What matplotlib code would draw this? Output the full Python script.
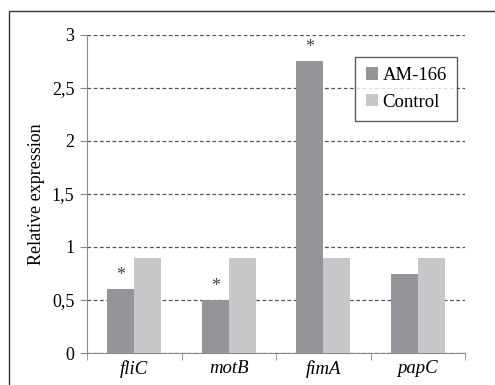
import matplotlib
matplotlib.use("Agg")
import matplotlib.pyplot as plt
import numpy as np
from matplotlib.patches import Rectangle

genes = ["fliC", "motB", "fimA", "papC"]
am166 = [0.6, 0.5, 2.75, 0.75]
control = [0.9, 0.9, 0.9, 0.9]
significant = [True, True, True, False]
yticks = [0, 0.5, 1, 1.5, 2, 2.5, 3]
ytick_labels = ["0", "0,5", "1", "1,5", "2", "2,5", "3"]

plt.rcParams['font.family'] = ['Liberation Serif', 'DejaVu Serif']

fig = plt.figure(figsize=(4.95, 3.85), dpi=100)
fig.patches.append(Rectangle((9/495, -0.1), 1.2, 1 - 11/385 + 0.1, transform=fig.transFigure,
                             fill=False, edgecolor='#333333', linewidth=1.0))
ax = fig.add_axes([87/495, 1 - 353/385, (465 - 87)/495, (353 - 35)/385])

x = np.arange(len(genes))
w = 0.285
c1, c2 = '#939598', '#c6c7c9'
ax.bar(x - w/2, am166, w, color=c1, label='AM-166', zorder=3)
ax.bar(x + w/2, control, w, color=c2, label='Control', zorder=3)
for xi, v, s in zip(x, am166, significant):
    if s:
        ax.text(xi - w/2, v + 0.05, '*', ha='center', va='bottom', fontsize=13, color='#444444')

ax.set_xlim(-0.5, 3.5)
ax.set_ylim(0, 3)
ax.set_yticks(yticks)
ax.set_yticklabels(ytick_labels, fontsize=13)
ax.yaxis.grid(True, linestyle=(0, (3, 2)), color='#555555', linewidth=0.9, zorder=0)
ax.set_axisbelow(True)
ax.set_xticks(x)
ax.set_xticklabels(genes, fontsize=13.5, style='italic')
ax.set_xticks(np.arange(-0.5, 4, 1), minor=True)
ax.tick_params(axis='x', which='major', length=0, pad=5)
ax.tick_params(axis='x', which='minor', length=5, color='#888888')
ax.tick_params(axis='y', length=5, color='#888888', pad=4)
for s in ['top', 'right']:
    ax.spines[s].set_visible(False)
ax.spines['left'].set_color('#888888')
ax.spines['bottom'].set_color('#888888')
ax.set_ylabel('Relative expression', fontsize=13, labelpad=5)

leg = ax.legend(loc='upper right', bbox_to_anchor=(457/495, 1 - 57/385), bbox_transform=fig.transFigure,
                fontsize=13.5, frameon=True, fancybox=False, edgecolor='#333333',
                handlelength=0.65, handleheight=0.65, handletextpad=0.25, labelspacing=0.5,
                borderpad=0.55, borderaxespad=0)
leg.get_frame().set_linewidth(1.0)

fig.savefig('out.png', dpi=100)
